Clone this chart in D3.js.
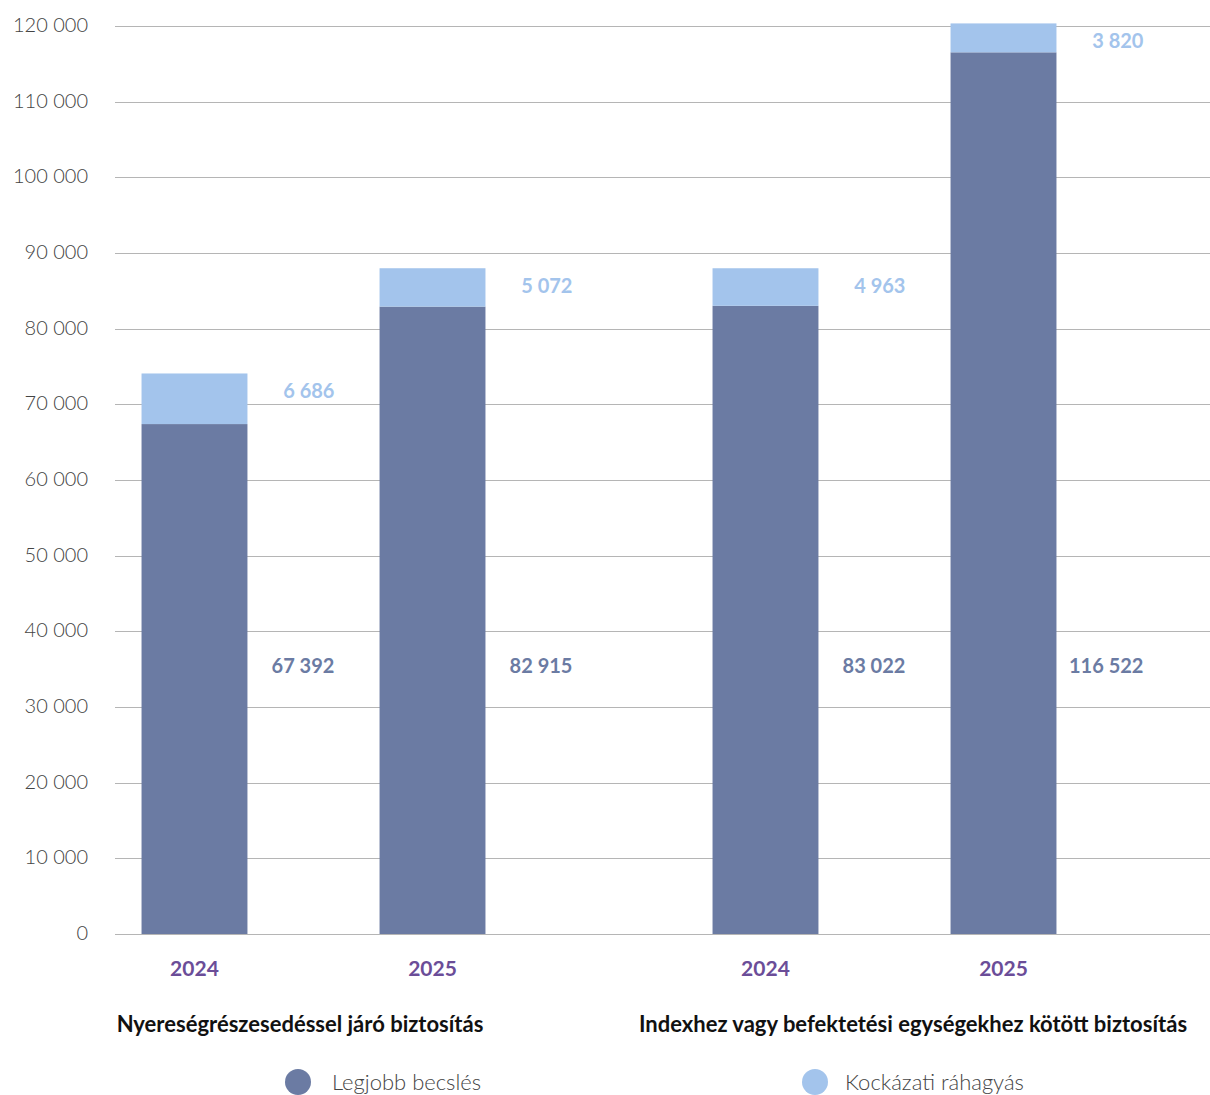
<!DOCTYPE html>
<html>
<head>
<meta charset="utf-8">
<script src="https://cdn.jsdelivr.net/npm/d3@7"></script>
<style>
  body { margin: 0; background: #fff; }
  svg { font-family: Lato, "Open Sans", sans-serif; display: block; }
</style>
</head>
<body>
<div id="chart"></div>
<script>
// chart data
var groups = ['Nyereségrészesedéssel járó biztosítás', 'Indexhez vagy befektetési egységekhez kötött biztosítás'];
var years = ['2024', '2025'];
var bestEstimate = [[67392, 82915], [83022, 116522]];
var riskMargin = [[6686, 5072], [4963, 3820]];
var yTicks = [0, 10000, 20000, 30000, 40000, 50000, 60000, 70000, 80000, 90000, 100000, 110000, 120000];
var seriesNames = ['Legjobb becslés', 'Kockázati ráhagyás'];

var colors = ['#6b7ba3', '#a3c4ec'];

var width = 1210, height = 1095;
var plotLeft = 115, plotRight = 1210;

var svg = d3.select('#chart').append('svg')
    .attr('width', width)
    .attr('height', height);

var y = d3.scaleLinear()
    .domain([0, 120000])
    .range([934, 26]);

var x0 = d3.scaleBand()
    .domain(groups)
    .range([28, 1170])
    .paddingInner(0);

var x1 = d3.scaleBand()
    .domain(years)
    .range([0, x0.bandwidth()])
    .paddingInner(0.555)
    .paddingOuter(0.477);

var fmt = function(v) { return d3.format(',')(v).replace(/,/g, ' '); };

// gridlines + tick labels
svg.append('g')
    .selectAll('line')
    .data(yTicks)
    .enter()
    .append('line')
    .attr('x1', plotLeft)
    .attr('x2', plotRight)
    .attr('y1', function(d) { return Math.round(y(d)) + 0.5; })
    .attr('y2', function(d) { return Math.round(y(d)) + 0.5; })
    .attr('stroke', '#b5b5b5')
    .attr('stroke-width', 1.2);

svg.append('g')
    .selectAll('text')
    .data(yTicks)
    .enter()
    .append('text')
    .attr('x', 88)
    .attr('y', function(d) { return y(d); })
    .attr('text-anchor', 'end')
    .attr('dy', '0.3em')
    .style('font-size', '20px')
    .style('font-weight', 300)
    .style('fill', '#444')
    .text(fmt);

// bars
groups.forEach(function(g, gi) {
    years.forEach(function(yr, yi) {
        var bx = x0(g) + x1(yr);
        var bw = x1.bandwidth();
        var be = bestEstimate[gi][yi];
        var rm = riskMargin[gi][yi];

        svg.append('rect')
            .attr('x', bx)
            .attr('y', y(be))
            .attr('width', bw)
            .attr('height', y(0) - y(be))
            .attr('fill', colors[0]);

        svg.append('rect')
            .attr('x', bx)
            .attr('y', y(be + rm))
            .attr('width', bw)
            .attr('height', y(be) - y(be + rm))
            .attr('fill', colors[1]);

        // value labels
        svg.append('text')
            .attr('x', bx + bw + 87)
            .attr('y', y(35400))
            .attr('dy', '0.35em')
            .attr('text-anchor', 'end')
            .style('font-size', '20px')
            .style('font-weight', 'bold')
            .style('fill', colors[0])
            .text(fmt(be));

        svg.append('text')
            .attr('x', bx + bw + 87)
            .attr('y', y(be + rm) + 18)
            .attr('dy', '0.35em')
            .attr('text-anchor', 'end')
            .style('font-size', '20px')
            .style('font-weight', 'bold')
            .style('fill', colors[1])
            .text(fmt(rm));

        // year label
        svg.append('text')
            .attr('x', bx + bw / 2)
            .attr('y', 969)
            .attr('dy', '0.35em')
            .attr('text-anchor', 'middle')
            .style('font-size', '21px')
            .style('font-weight', 'bold')
            .style('fill', '#6b4d98')
            .text(yr);
    });
});

// group titles
var titleCenters = [300, 913];
groups.forEach(function(g, gi) {
    svg.append('text')
        .attr('x', titleCenters[gi])
        .attr('y', 1024)
        .attr('dy', '0.35em')
        .attr('text-anchor', 'middle')
        .style('font-size', '22px')
        .style('font-weight', 'bold')
        .style('fill', '#111')
        .text(g);
});

// legend
var legendX = [298, 815];
var legendTextX = [332, 845];
seriesNames.forEach(function(name, i) {
    svg.append('circle')
        .attr('cx', legendX[i])
        .attr('cy', 1082)
        .attr('r', 13)
        .attr('fill', colors[i]);
    svg.append('text')
        .attr('x', legendTextX[i])
        .attr('y', 1082)
        .attr('dy', '0.35em')
        .style('font-size', '22px')
        .style('font-weight', 300)
        .style('fill', '#444')
        .text(name);
});
</script>
</body>
</html>
